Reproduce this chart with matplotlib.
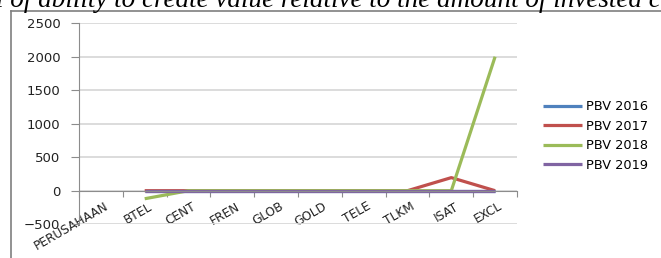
import numpy as np
import matplotlib
matplotlib.use("Agg")
import matplotlib.pyplot as plt
from matplotlib.lines import Line2D
from matplotlib.transforms import ScaledTranslation

categories = ["PERUSAHAAN", "BTEL", "CENT", "FREN", "GLOB", "GOLD",
              "TELE", "TLKM", "ISAT", "EXCL"]
pbv_2016 = [np.nan, 0, 0, 0, 0, 0, 0, 0, 0, 0]
pbv_2017 = [np.nan, 0, 0, 0, 0, 0, 0, 0, 195, 0]
pbv_2018 = [np.nan, -120, 0, 0, 0, 0, 0, 0, 0, 2000]
pbv_2019 = [np.nan, 0, 0, 0, 0, 0, 0, 0, 0, 0]
series_names = ["PBV 2016", "PBV 2017", "PBV 2018", "PBV 2019"]
y_ticks = [-500, 0, 500, 1000, 1500, 2000, 2500]

colors = ["#4F81BD", "#C0504D", "#9BBB59", "#8064A2"]

W, H = 661, 258
fig = plt.figure(figsize=(W / 100, H / 100), dpi=100)

# axes placed in pixel terms
left, right, top, bottom = 79, 517, 23.2, 224.2
ax = fig.add_axes([left / W, 1 - bottom / H, (right - left) / W, (bottom - top) / H])

x = np.arange(len(categories))
for vals, name, c in zip([pbv_2016, pbv_2017, pbv_2018, pbv_2019], series_names, colors):
    ax.plot(x, vals, color=c, lw=2.3, label=name, solid_capstyle="butt")

ax.set_xlim(-0.5, len(categories) - 0.5)
ax.set_ylim(-500, 2500)
ax.set_yticks(y_ticks)
ax.yaxis.grid(True, color="#d9d9d9", lw=1.3)
ax.set_axisbelow(True)

for s in ["top", "right"]:
    ax.spines[s].set_visible(False)
ax.spines["left"].set_color("#8c8c8c")
ax.spines["left"].set_linewidth(0.8)
ax.spines["bottom"].set_position(("data", 0))
ax.spines["bottom"].set_color("#8c8c8c")
ax.spines["bottom"].set_linewidth(0.8)

ax.tick_params(axis="y", length=6, width=0.8, color="#8c8c8c", labelsize=9.5,
               labelcolor="#222222", pad=7.5)
ax.set_xticks(np.arange(-0.5, len(categories), 1))
ax.set_xticklabels([])
ax.tick_params(axis="x", which="major", length=4, width=0.8, color="#8c8c8c", direction="out")
ax.set_xticks(x, minor=True)
ax.set_xticklabels(categories, minor=True, rotation=30, ha="right",
                   rotation_mode="anchor", fontsize=8.7, color="#222222")
ax.tick_params(axis="x", which="minor", length=0, pad=6.5)
shift = ScaledTranslation(3 / 100, 0, fig.dpi_scale_trans)
for lab in ax.get_xticklabels(minor=True):
    lab.set_transform(lab.get_transform() + shift)

ax.legend(loc="center left", bbox_to_anchor=(538 / W, 1 - 136 / H),
          bbox_transform=fig.transFigure, frameon=False, fontsize=9.3,
          handlelength=3.0, handletextpad=0.3, labelspacing=0.5, borderaxespad=0)

# outer chart frame, cut off on the right and bottom
fig.add_artist(Line2D([11 / W, 11 / W], [0, 1 - 11 / H], color="#7f7f7f", lw=1.2,
                      transform=fig.transFigure))
fig.add_artist(Line2D([11 / W, 1], [1 - 11 / H, 1 - 11 / H], color="#7f7f7f", lw=1.2,
                      transform=fig.transFigure))

# cropped caption line from the page above
fig.text(-4 / W, 1 - 7 / H,
         "l of ability to create value relative to the amount of invested capital",
         fontsize=19.5, style="italic", family="Liberation Serif", va="baseline", ha="left")

fig.savefig("out.png", dpi=100)
